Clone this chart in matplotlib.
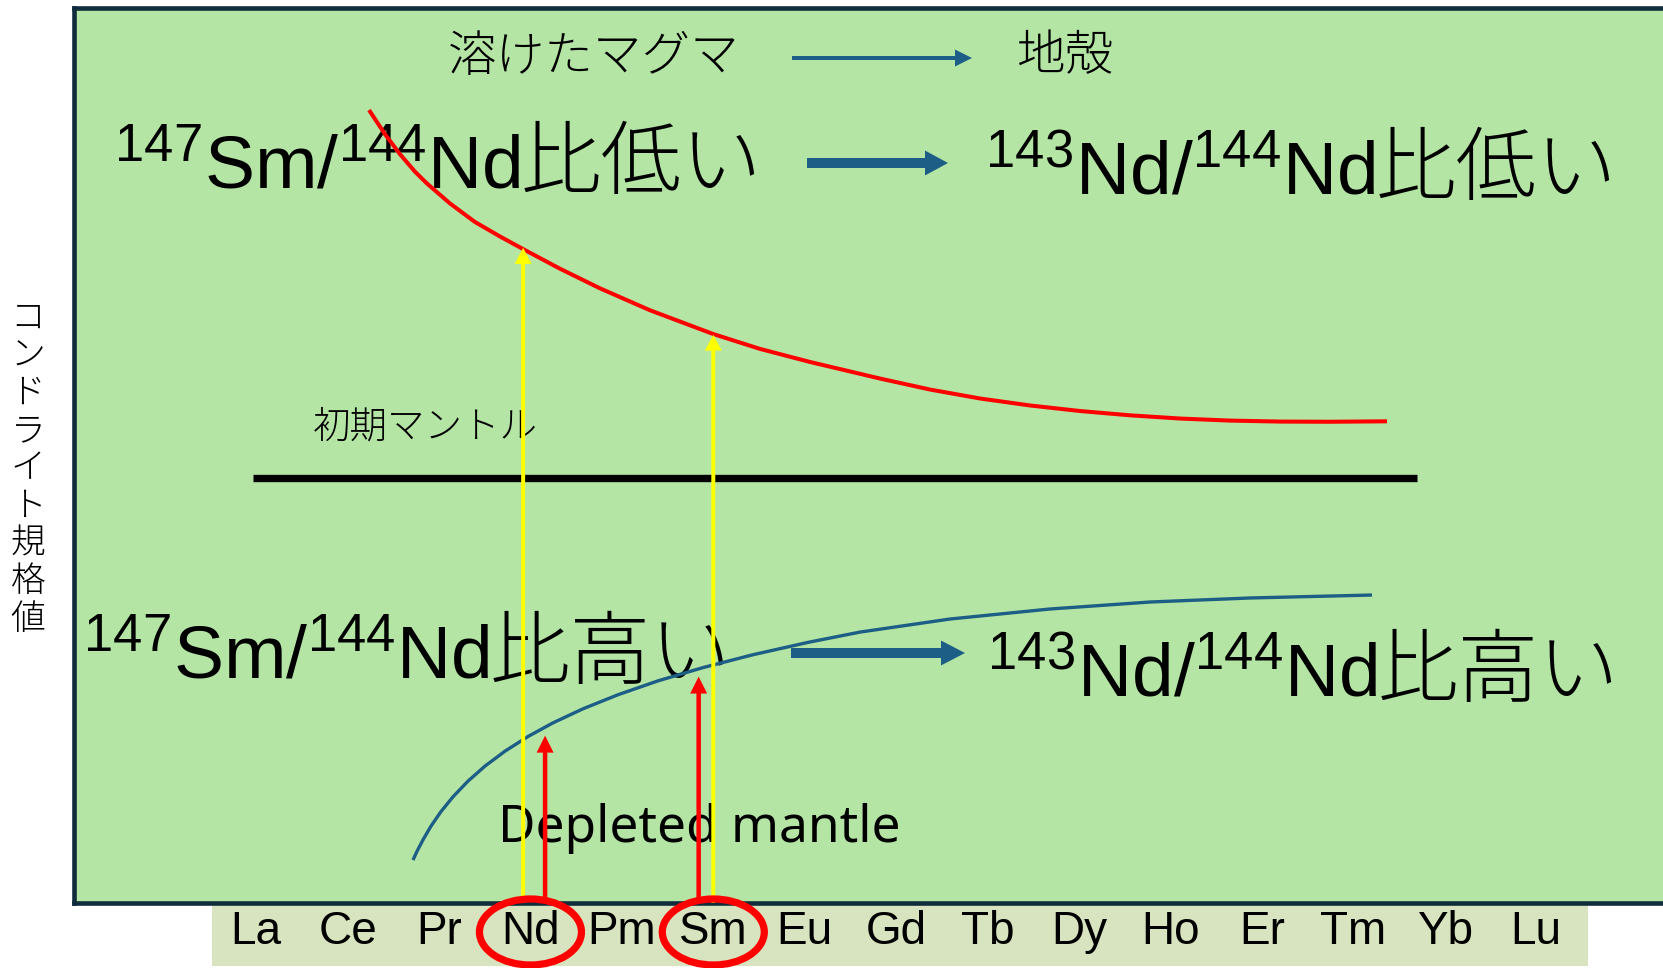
import matplotlib
matplotlib.use("Agg")
import matplotlib.pyplot as plt
from matplotlib.patches import FancyArrowPatch, Ellipse, Rectangle, ArrowStyle

# ---------------- data ----------------
elements = ["La", "Ce", "Pr", "Nd", "Pm", "Sm", "Eu", "Gd", "Tb", "Dy",
            "Ho", "Er", "Tm", "Yb", "Lu"]

# melt (crust) pattern: chondrite-normalised, arbitrary units (0-100)
melt_x = [1.234, 1.409, 1.573, 1.737, 1.868, 2.120, 2.393, 2.667, 2.918,
          3.323, 3.760, 4.307, 4.997, 5.511, 6.058, 6.823, 7.370, 7.917,
          8.464, 9.011, 9.558, 10.105, 10.652, 11.199, 11.746, 12.369]
melt_y = [88.60, 85.90, 83.66, 81.71, 80.39, 78.16, 76.09, 74.47, 73.07,
          70.87, 68.68, 66.23, 63.58, 61.91, 60.45, 58.60, 57.37, 56.37,
          55.59, 54.97, 54.49, 54.13, 53.90, 53.79, 53.77, 53.82]

# depleted mantle pattern
depleted_x = [1.715, 1.759, 1.825, 1.912, 2.021, 2.153, 2.317, 2.503, 2.722,
              2.973, 3.247, 3.575, 3.958, 4.395, 4.887, 5.434, 6.036, 6.605,
              7.589, 8.683, 9.777, 10.871, 12.205]
depleted_y = [4.80, 5.78, 7.07, 8.59, 10.21, 11.87, 13.62, 15.30, 16.97,
              18.60, 20.13, 21.70, 23.27, 24.82, 26.30, 27.74, 29.12, 30.27,
              31.73, 32.85, 33.63, 34.08, 34.41]

# primitive mantle (flat)
primitive_level = 47.5
primitive_span = [-0.035, 12.70]

# arrows from the element axis to the patterns
yellow_x = [2.92, 5.00]
yellow_tip = [73.2, 63.5]
red_x = [3.16, 4.84]
red_tip = [18.7, 25.3]

circled = ["Nd", "Sm"]

# ---------------- style / layout ----------------
W, H, DPI = 1663, 968, 100
GREEN = "#b4e5a4"
BAND = "#d8e4bf"
BORDER = "#0f2b3c"
BLUE = "#1c5e86"
JP = ["Noto Sans CJK JP", "DejaVu Sans"]

plt.rcParams["font.family"] = JP
plt.rcParams["mathtext.fontset"] = "custom"
plt.rcParams["mathtext.rm"] = "Liberation Sans"
plt.rcParams["mathtext.it"] = "Liberation Sans"
plt.rcParams["mathtext.bf"] = "Liberation Sans:bold"
plt.rcParams["mathtext.default"] = "rm"

fig = plt.figure(figsize=(W / DPI, H / DPI), dpi=DPI)
fig.patch.set_facecolor("white")

ax_left_px, ax_top_px, ax_bot_px, ax_right_px = 74, 8, 903, W + 30
ax = fig.add_axes([ax_left_px / W, 1 - ax_bot_px / H,
                   (ax_right_px - ax_left_px) / W, (ax_bot_px - ax_top_px) / H])
ax.set_facecolor(GREEN)
for s in ax.spines.values():
    s.set_color(BORDER)
    s.set_linewidth(3.3)

x0_px, step_px = 256.2, 91.42
ax.set_xlim((ax_left_px - x0_px) / step_px, (ax_right_px - x0_px) / step_px)
ax.set_ylim(0, 100)
ax.set_yticks([])
ax.set_xticks(range(len(elements)))
ax.set_xticklabels(elements, fontsize=33, family=["Liberation Sans", "DejaVu Sans"])
ax.tick_params(axis="x", length=0, pad=5, colors="black")

# label band below the axis
fig.add_artist(Rectangle((212 / W, 1 - 966 / H), 1376 / W, 61 / H,
                         transform=fig.transFigure, facecolor=BAND,
                         edgecolor="none", zorder=-1))


def fx(px):
    return px / W


def fy(py):
    return 1 - py / H


# curves
ax.plot(melt_x, melt_y, color="#ff0000", lw=2.9, solid_joinstyle="round",
        solid_capstyle="butt", zorder=3)
ax.plot(depleted_x, depleted_y, color=BLUE, lw=2.4, solid_joinstyle="round",
        solid_capstyle="butt", zorder=3)
ax.hlines(primitive_level, primitive_span[0], primitive_span[1], color="black",
          lw=5.3, zorder=3)


def arrow_style(tail, head_w, head_l):
    return ArrowStyle.Simple(head_length=head_l * 0.72, head_width=head_w * 0.72,
                             tail_width=tail * 0.72)


for x, t in zip(yellow_x, yellow_tip):
    ax.add_patch(FancyArrowPatch((x, 0), (x, t), arrowstyle=arrow_style(4, 17, 16),
                                 mutation_scale=1, facecolor="#ffff00",
                                 edgecolor="none", shrinkA=0, shrinkB=0, zorder=4,
                                 clip_on=False))
for x, t in zip(red_x, red_tip):
    ax.add_patch(FancyArrowPatch((x, 0), (x, t), arrowstyle=arrow_style(4.5, 17, 17),
                                 mutation_scale=1, facecolor="#ff0000",
                                 edgecolor="none", shrinkA=0, shrinkB=0, zorder=4,
                                 clip_on=False))

# horizontal flow arrows
flow_arrows = [((792, 58), (972, 58), (4, 17, 17)),
               ((807, 163), (948, 163), (10, 25, 23)),
               ((791, 653), (965, 653), (10, 25, 24))]
for (a, b, st) in flow_arrows:
    fig.add_artist(FancyArrowPatch((fx(a[0]), fy(a[1])), (fx(b[0]), fy(b[1])),
                                   transform=fig.transFigure,
                                   arrowstyle=arrow_style(*st), mutation_scale=1,
                                   facecolor=BLUE, edgecolor="none",
                                   shrinkA=0, shrinkB=0, zorder=5))

# texts (drawn beneath the lines)
tkw = dict(transform=fig.transFigure, zorder=1, color="black")
ax.text(fx(594), fy(57), "溶けたマグマ", fontsize=35, ha="center", va="center",
        weight="light", **tkw)
ax.text(fx(1065), fy(56), "地殻", fontsize=35, ha="center", va="center",
        weight="light", **tkw)


def ratio_label(x_px, base_px, math, jp):
    t = ax.text(fx(x_px), fy(base_px), math, fontsize=54, ha="left",
                va="baseline", **tkw)
    ax.annotate(jp, xy=(1, fy(base_px)), xycoords=(t, fig.transFigure),
                fontsize=58, ha="left", va="baseline", weight="light",
                zorder=1, annotation_clip=False)


ratio_label(114, 188, r"$^{\mathrm{147}}\mathrm{Sm}/^{\mathrm{144}}\mathrm{Nd}$", "比低い")
ratio_label(985, 194, r"$^{\mathrm{143}}\mathrm{Nd}/^{\mathrm{144}}\mathrm{Nd}$", "比低い")
ratio_label(83, 678, r"$^{\mathrm{147}}\mathrm{Sm}/^{\mathrm{144}}\mathrm{Nd}$", "比高い")
ratio_label(987, 696, r"$^{\mathrm{143}}\mathrm{Nd}/^{\mathrm{144}}\mathrm{Nd}$", "比高い")

ax.text(fx(425), fy(427), "初期マントル", fontsize=27, ha="center", va="center",
        weight="light", **tkw)
ax.text(fx(498), fy(842), "Depleted mantle", fontsize=37, ha="left",
        va="baseline", family=["Noto Sans", "DejaVu Sans"], **tkw)

# vertical y label, one character per row
ylabel = "コンドライト規格値"
for i, ch in enumerate(ylabel):
    ax.text(fx(28), fy(318 + i * 37.6), ch, fontsize=25, ha="center",
            va="center", weight="light", **tkw)

# red circles around Nd and Sm labels
to_fig = ax.transData + fig.transFigure.inverted()
for el in circled:
    cx = to_fig.transform((elements.index(el), 0))[0]
    fig.add_artist(Ellipse((cx, fy(932)), 102 / W, 66 / H,
                           transform=fig.transFigure, facecolor="none",
                           edgecolor="#ff0000", lw=5.2, zorder=6))

fig.savefig("out.png", dpi=DPI)
